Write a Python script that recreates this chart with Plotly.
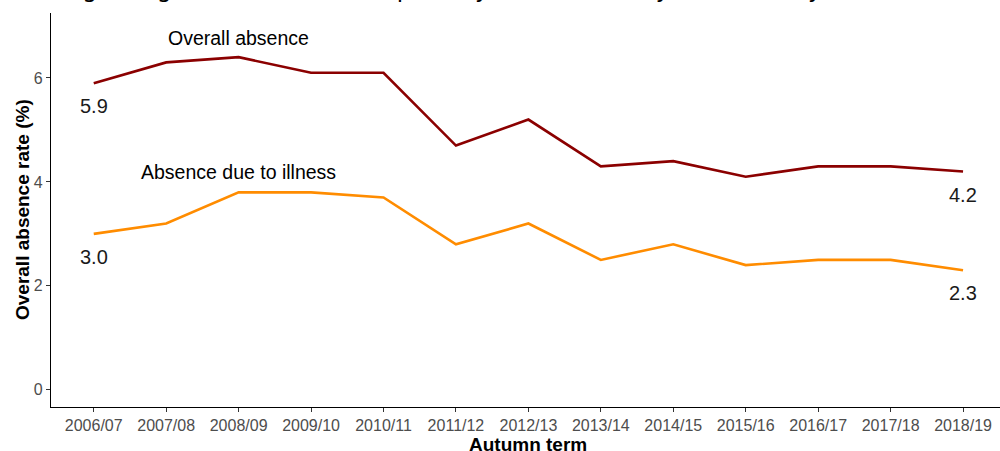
"""Overall absence vs. absence due to illness, autumn terms 2006/07 to 2018/19."""

import plotly.graph_objects as go

terms = ["2006/07", "2007/08", "2008/09", "2009/10", "2010/11", "2011/12", "2012/13",
         "2013/14", "2014/15", "2015/16", "2016/17", "2017/18", "2018/19"]
overall = [5.9, 6.3, 6.4, 6.1, 6.1, 4.7, 5.2, 4.3, 4.4, 4.1, 4.3, 4.3, 4.2]
illness = [3.0, 3.2, 3.8, 3.8, 3.7, 2.8, 3.2, 2.5, 2.8, 2.4, 2.5, 2.5, 2.3]

series = [
    ("Overall absence", overall, "#8B0000", 6.77),
    ("Absence due to illness", illness, "#FF8C00", 4.19),
]

FONT = "Liberation Sans, Arial, sans-serif"

fig = go.Figure()
for name, vals, colour, label_y in series:
    fig.add_trace(go.Scatter(
        x=list(range(len(terms))), y=vals, mode="lines", name=name,
        line=dict(color=colour, width=2.6), showlegend=False,
    ))
    # series name above the line
    fig.add_annotation(x=2, y=label_y, text=name, showarrow=False,
                       font=dict(size=19.5, color="black", family=FONT))
    # first and last values below the line
    for i in (0, len(terms) - 1):
        fig.add_annotation(x=i, y=vals[i], text=f"{vals[i]:.1f}", showarrow=False,
                           yanchor="top", yshift=-10,
                           font=dict(size=20, color="#1a1a1a", family=FONT))

# cut-off subtitle at the very top
fig.add_annotation(xref="paper", yref="paper", x=-54 / 949, y=1.0, yshift=8,
                   xanchor="left", yanchor="bottom",
                   text="Coverage: England (state-funded primary and secondary schools only)",
                   showarrow=False, font=dict(size=23.5, color="black", family="DejaVu Sans"))

# axis titles as annotations so they can sit right at the edge
fig.add_annotation(x=6, xref="x", y=0, yref="paper", yshift=-37, yanchor="middle",
                   text="<b>Autumn term</b>", showarrow=False,
                   font=dict(size=19, color="black", family=FONT))
fig.add_annotation(x=0, xref="paper", xshift=-29, xanchor="center",
                   y=0.5, yref="paper", yanchor="middle", textangle=-90,
                   text="<b>Overall absence rate (%)</b>", showarrow=False,
                   font=dict(size=19, color="black", family=FONT))

fig.update_layout(
    width=1000, height=451,
    margin=dict(l=51, r=0, t=13, b=44),
    plot_bgcolor="white", paper_bgcolor="white",
    font=dict(family=FONT),
)
fig.update_xaxes(
    range=[-0.59, 12.51], tickmode="array", tickvals=list(range(len(terms))), ticktext=terms,
    showgrid=False, zeroline=False, showline=True, linecolor="black", linewidth=1.2,
    ticks="outside", ticklen=4, tickcolor="#333333", automargin=False,
    tickfont=dict(size=16, color="#4d4d4d"),
)
fig.update_yaxes(
    range=[-0.33, 7.25], tickvals=[0, 2, 4, 6],
    showgrid=False, zeroline=False, showline=True, linecolor="black", linewidth=1.2,
    ticks="outside", ticklen=4, tickcolor="#333333", automargin=False,
    tickfont=dict(size=16, color="#4d4d4d"),
)

# drop the page's default body margin so the figure sits flush with the window
fig.write_html("out.html", config={"displayModeBar": False},
               post_script="document.body.style.margin = '0';")
